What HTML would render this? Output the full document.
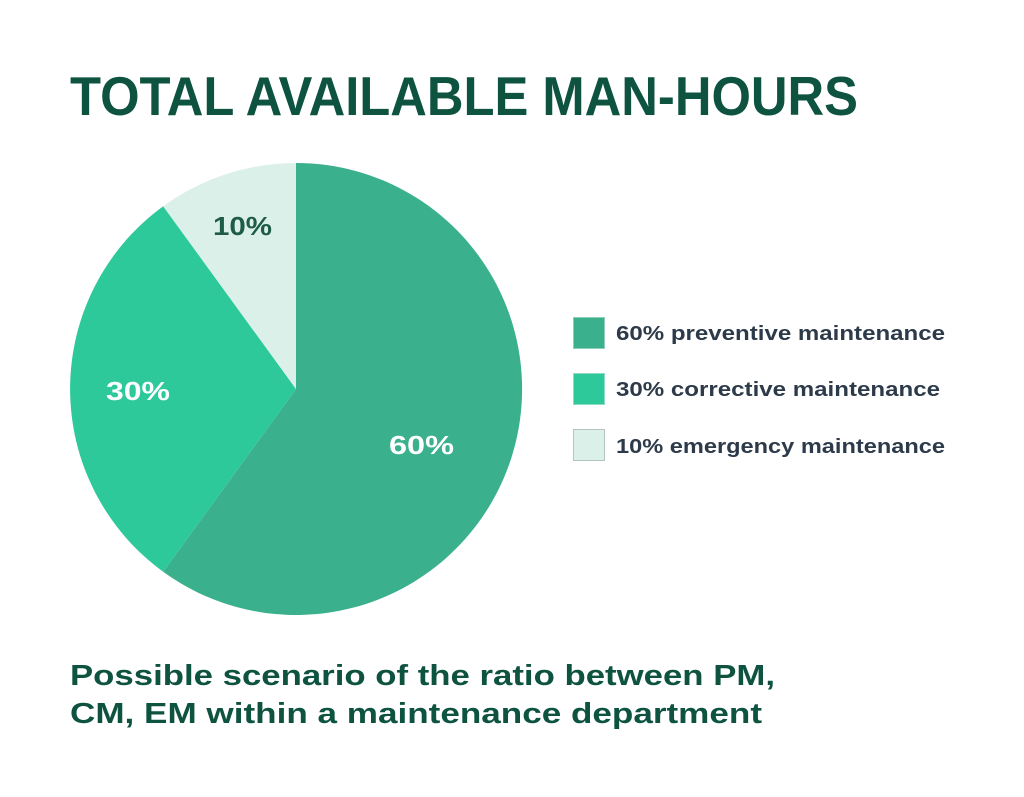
<!DOCTYPE html>
<html><head><style>
html,body{margin:0;padding:0;background:#fff;}
svg{display:block;}
text{font-family:"Liberation Sans",sans-serif;font-weight:bold;}
</style></head><body>
<svg width="1024" height="797" viewBox="0 0 1024 797">
<rect width="1024" height="797" fill="#fff"/>
<text x="70" y="115" font-size="55" fill="#0d5340" textLength="788" lengthAdjust="spacingAndGlyphs">TOTAL AVAILABLE MAN-HOURS</text>
<path d="M296,389 L296,163 A226,226 0 1,1 163.2,571.8 Z" fill="#3bb08d"/>
<path d="M296,389 L163.2,571.8 A226,226 0 0,1 163.2,206.2 Z" fill="#2ec99b"/>
<path d="M296,389 L163.2,206.2 A226,226 0 0,1 296,163 Z" fill="#dcf0ea"/>
<text x="213" y="235" font-size="26" fill="#1e5c48" textLength="59" lengthAdjust="spacingAndGlyphs">10%</text>
<text x="106" y="400" font-size="26" fill="#fff" textLength="64" lengthAdjust="spacingAndGlyphs">30%</text>
<text x="389" y="454" font-size="26" fill="#fff" textLength="65" lengthAdjust="spacingAndGlyphs">60%</text>
<rect x="573.5" y="317.5" width="31" height="31" fill="#3bb08d" stroke="#8fcfb8"/>
<rect x="573.5" y="373.5" width="31" height="31" fill="#2ec99b" stroke="#8fdcc4"/>
<rect x="573.5" y="429.5" width="31" height="31" fill="#dcf0ea" stroke="#b5c4be"/>
<g font-size="20.5" fill="#2d3a4a">
<text x="616" y="340" textLength="329" lengthAdjust="spacingAndGlyphs">60% preventive maintenance</text>
<text x="616" y="396" textLength="324" lengthAdjust="spacingAndGlyphs">30% corrective maintenance</text>
<text x="616" y="453" textLength="329" lengthAdjust="spacingAndGlyphs">10% emergency maintenance</text>
</g>
<g font-size="29" fill="#0d5340">
<text x="70" y="685" textLength="705" lengthAdjust="spacingAndGlyphs">Possible scenario of the ratio between PM,</text>
<text x="70" y="723" textLength="692" lengthAdjust="spacingAndGlyphs">CM, EM within a maintenance department</text>
</g>
</svg>
</body></html>
